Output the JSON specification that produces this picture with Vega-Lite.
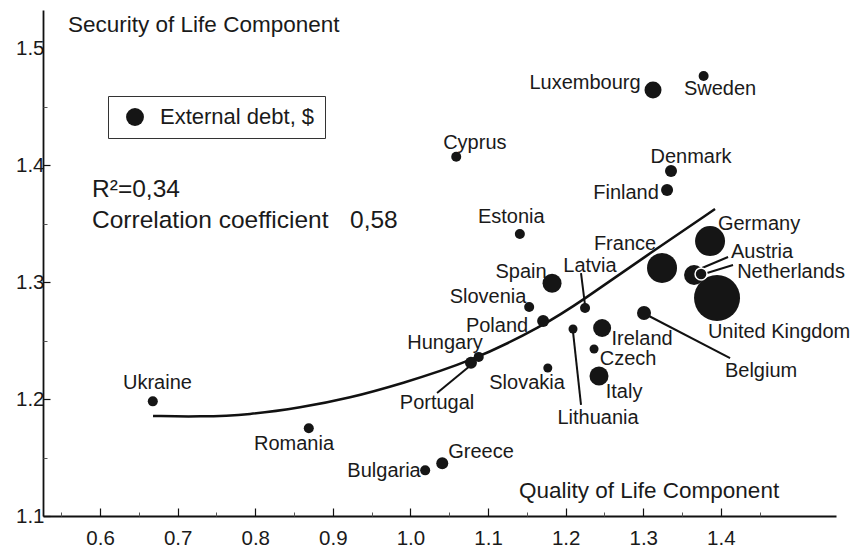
{
  "$schema": "https://vega.github.io/schema/vega-lite/v6.json",
  "width": 793,
  "height": 506,
  "autosize": {"type": "none"},
  "padding": {"left": 43, "top": 10, "right": 16, "bottom": 31},
  "background": "white",
  "config": {
    "view": {"stroke": null},
    "font": "Liberation Sans",
    "text": {"font": "Liberation Sans", "color": "#1a1a1a"}
  },
  "datasets": {
    "countries": [
      {"country": "Ukraine", "qol": 0.668, "sol": 1.198, "debt": 400, "lx": 0.674, "ly": 1.214},
      {"country": "Romania", "qol": 0.869, "sol": 1.175, "debt": 400, "lx": 0.850, "ly": 1.1615},
      {"country": "Bulgaria", "qol": 1.019, "sol": 1.139, "debt": 400, "lx": 0.966, "ly": 1.1385},
      {"country": "Greece", "qol": 1.041, "sol": 1.145, "debt": 576, "lx": 1.091, "ly": 1.1547},
      {"country": "Cyprus", "qol": 1.059, "sol": 1.407, "debt": 400, "lx": 1.083, "ly": 1.419},
      {"country": "Estonia", "qol": 1.141, "sol": 1.341, "debt": 400, "lx": 1.130, "ly": 1.3556},
      {"country": "Spain", "qol": 1.1825, "sol": 1.299, "debt": 1444, "lx": 1.1425, "ly": 1.3085},
      {"country": "Slovenia", "qol": 1.153, "sol": 1.2786, "debt": 400, "lx": 1.100, "ly": 1.2872},
      {"country": "Poland", "qol": 1.171, "sol": 1.2667, "debt": 576, "lx": 1.1116, "ly": 1.2624},
      {"country": "Hungary", "qol": 1.088, "sol": 1.236, "debt": 400, "lx": 1.0446, "ly": 1.2479},
      {"country": "Portugal", "qol": 1.078, "sol": 1.231, "debt": 576, "lx": 1.0343, "ly": 1.1966},
      {"country": "Slovakia", "qol": 1.177, "sol": 1.2265, "debt": 324, "lx": 1.1503, "ly": 1.2137},
      {"country": "Lithuania", "qol": 1.2095, "sol": 1.2598, "debt": 324, "lx": 1.2418, "ly": 1.1838},
      {"country": "Latvia", "qol": 1.225, "sol": 1.2778, "debt": 400, "lx": 1.2314, "ly": 1.3137},
      {"country": "Ireland", "qol": 1.247, "sol": 1.2607, "debt": 1296, "lx": 1.2985, "ly": 1.2515},
      {"country": "Czech", "qol": 1.2366, "sol": 1.2427, "debt": 324, "lx": 1.2804, "ly": 1.2345},
      {"country": "Italy", "qol": 1.243, "sol": 1.2197, "debt": 1444, "lx": 1.2753, "ly": 1.206},
      {"country": "Belgium", "qol": 1.301, "sol": 1.2735, "debt": 784, "lx": 1.4518, "ly": 1.2239},
      {"country": "France", "qol": 1.3242, "sol": 1.312, "debt": 3600, "lx": 1.2765, "ly": 1.3325},
      {"country": "Germany", "qol": 1.3861, "sol": 1.335, "debt": 3600, "lx": 1.4492, "ly": 1.3496},
      {"country": "Austria", "qol": 1.3655, "sol": 1.306, "debt": 1600, "lx": 1.4531, "ly": 1.3256},
      {"country": "Netherlands", "qol": 1.3745, "sol": 1.3068, "debt": 576, "lx": 1.4905, "ly": 1.3085},
      {"country": "United Kingdom", "qol": 1.3951, "sol": 1.2863, "debt": 8464, "lx": 1.475, "ly": 1.2573},
      {"country": "Luxembourg", "qol": 1.3126, "sol": 1.4641, "debt": 1156, "lx": 1.225, "ly": 1.4701},
      {"country": "Sweden", "qol": 1.3778, "sol": 1.4761, "debt": 400, "lx": 1.399, "ly": 1.465},
      {"country": "Denmark", "qol": 1.3358, "sol": 1.3949, "debt": 576, "lx": 1.3616, "ly": 1.4068},
      {"country": "Finland", "qol": 1.3307, "sol": 1.3786, "debt": 576, "lx": 1.2778, "ly": 1.3761}
    ],
    "curve": [
      {"qol": 0.6683, "sol": 1.1855},
      {"qol": 0.7289, "sol": 1.1848},
      {"qol": 0.7933, "sol": 1.1866},
      {"qol": 0.8577, "sol": 1.1925},
      {"qol": 0.9222, "sol": 1.2009},
      {"qol": 0.9866, "sol": 1.2128},
      {"qol": 1.0768, "sol": 1.2316},
      {"qol": 1.1709, "sol": 1.2624},
      {"qol": 1.2224, "sol": 1.2846},
      {"qol": 1.2997, "sol": 1.3205},
      {"qol": 1.3925, "sol": 1.3624}
    ],
    "leaders": [
      {"country": "Latvia", "x1": 1.2198, "y1": 1.3077, "x2": 1.225, "y2": 1.2803},
      {"country": "Lithuania", "x1": 1.2095, "y1": 1.2573, "x2": 1.2198, "y2": 1.1949},
      {"country": "Portugal", "x1": 1.0781, "y1": 1.2291, "x2": 1.0343, "y2": 1.2051},
      {"country": "Belgium", "x1": 1.3049, "y1": 1.2718, "x2": 1.4119, "y2": 1.235},
      {"country": "Austria", "x1": 1.3758, "y1": 1.312, "x2": 1.4093, "y2": 1.3214},
      {"country": "Netherlands", "x1": 1.3822, "y1": 1.3077, "x2": 1.4157, "y2": 1.3145}
    ],
    "notes": [
      {"text": "Security of Life Component", "x": 0.5588, "y": 1.5197, "kind": "title"},
      {"text": "Quality of Life Component", "x": 1.1399, "y": 1.1214, "kind": "title"},
      {"text": "R²=0,34", "x": 0.5897, "y": 1.3786, "kind": "stat"},
      {"text": "Correlation coefficient", "x": 0.5897, "y": 1.3521, "kind": "stat"},
      {"text": "0,58", "x": 0.9222, "y": 1.3521, "kind": "stat"}
    ]
  },
  "layer": [
    {
      "data": {"name": "curve"},
      "mark": {"type": "line", "interpolate": "basis", "color": "#111", "strokeWidth": 2.5},
      "encoding": {
        "x": {
          "field": "qol", "type": "quantitative",
          "scale": {"domain": [0.5265, 1.5484], "nice": false, "zero": false},
          "axis": {
            "orient": "bottom", "title": null, "grid": false,
            "values": [0.6, 0.7, 0.8, 0.9, 1.0, 1.1, 1.2, 1.3, 1.4],
            "format": ".1f", "labelFont": "Liberation Sans", "labelFontSize": 20.5,
            "labelColor": "#1a1a1a", "labelPadding": 20, "labelFlush": false, "labelOverlap": false,
            "tickSize": -8, "tickColor": "#111", "tickWidth": 1.2,
            "domainColor": "#111", "domainWidth": 1.8
          }
        },
        "y": {
          "field": "sol", "type": "quantitative",
          "scale": {"domain": [1.1, 1.5325], "nice": false, "zero": false},
          "axis": {
            "orient": "left", "title": null, "grid": false,
            "values": [1.1, 1.2, 1.3, 1.4, 1.5],
            "format": ".1f", "labelFont": "Liberation Sans", "labelFontSize": 20.5,
            "labelColor": "#1a1a1a", "labelPadding": 6, "labelFlush": false, "labelOverlap": false,
            "tickSize": -7, "tickColor": "#111", "tickWidth": 1.2,
            "tickOpacity": {"condition": {"test": "datum.value === 1.5", "value": 0}, "value": 1},
            "domainColor": "#111", "domainWidth": 1.8
          }
        }
      }
    },
    {
      "data": {"name": "leaders"},
      "mark": {"type": "rule", "color": "#111", "strokeWidth": 2},
      "encoding": {
        "x": {"field": "x1", "type": "quantitative", "axis": null},
        "y": {"field": "y1", "type": "quantitative", "axis": null},
        "x2": {"field": "x2"},
        "y2": {"field": "y2"}
      }
    },
    {
      "data": {"name": "countries"},
      "mark": {"type": "circle", "opacity": 1},
      "encoding": {
        "x": {"field": "qol", "type": "quantitative", "axis": null},
        "y": {"field": "sol", "type": "quantitative", "axis": null},
        "size": {"field": "debt", "type": "quantitative", "legend": null,
                 "scale": {"type": "linear", "zero": true, "domain": [0, 8464], "range": [0, 2116]}},
        "color": {
          "datum": "External debt, $", "type": "nominal",
          "scale": {"range": ["#151515"]},
          "legend": {
            "title": null, "orient": "none", "legendX": 65, "legendY": 86,
            "strokeColor": "#333", "padding": 10, "symbolType": "circle", "symbolSize": 320,
            "symbolOffset": 6, "labelOffset": 14, "labelFontSize": 22,
            "labelFont": "Liberation Sans", "labelColor": "#1a1a1a", "labelLimit": 400
          }
        }
      }
    },
    {
      "data": {"name": "countries"},
      "transform": [{"filter": "datum.country === 'Netherlands'"}],
      "mark": {"type": "circle", "opacity": 1, "color": "#151515", "stroke": "white", "strokeWidth": 1.5},
      "encoding": {
        "x": {"field": "qol", "type": "quantitative", "axis": null},
        "y": {"field": "sol", "type": "quantitative", "axis": null},
        "size": {"field": "debt", "type": "quantitative", "legend": null}
      }
    },
    {
      "data": {"name": "countries"},
      "mark": {"type": "text", "align": "center", "baseline": "middle", "fontSize": 20, "font": "Liberation Sans", "color": "#1a1a1a"},
      "encoding": {
        "x": {"field": "lx", "type": "quantitative", "axis": null},
        "y": {"field": "ly", "type": "quantitative", "axis": null},
        "text": {"field": "country"}
      }
    },
    {
      "data": {"name": "notes"},
      "mark": {"type": "text", "align": "left", "baseline": "middle", "font": "Liberation Sans", "color": "#1a1a1a"},
      "encoding": {
        "x": {
          "field": "x", "type": "quantitative",
          "axis": {
            "orient": "bottom", "title": null, "grid": false, "labels": false, "domain": false,
            "values": [0.55, 0.65, 0.75, 0.85, 0.95, 1.05, 1.15, 1.25, 1.35, 1.45],
            "tickSize": -4, "tickColor": "#555", "tickWidth": 1
          }
        },
        "y": {
          "field": "y", "type": "quantitative",
          "axis": {
            "orient": "left", "title": null, "grid": false, "labels": false, "domain": false,
            "values": [1.15, 1.25, 1.35, 1.45],
            "tickSize": -4, "tickColor": "#555", "tickWidth": 1
          }
        },
        "text": {"field": "text"},
        "size": {"condition": {"test": "datum.kind === 'title'", "value": 22.5}, "value": 24.5}
      }
    }
  ],
  "resolve": {"axis": {"x": "independent", "y": "independent"}}
}
